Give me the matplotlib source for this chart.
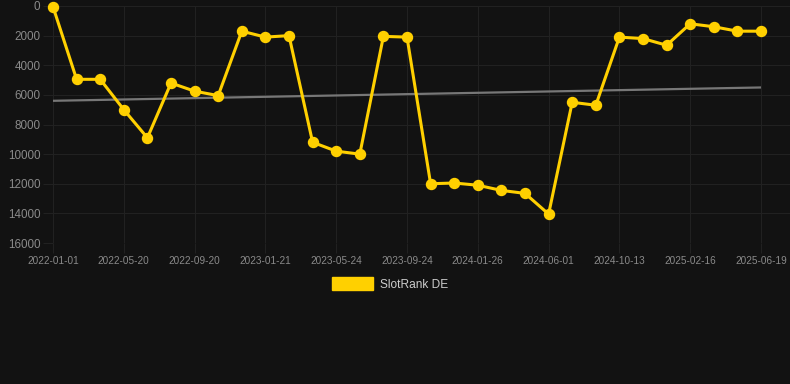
import matplotlib
matplotlib.use("Agg")
import matplotlib.pyplot as plt
from matplotlib.patches import Patch
import numpy as np

plt.rcParams['font.family'] = ['Liberation Sans', 'DejaVu Sans']

# Data
tick_labels = ["2022-01-01", "2022-05-20", "2022-09-20", "2023-01-21", "2023-05-24",
               "2023-09-24", "2024-01-26", "2024-06-01", "2024-10-13", "2025-02-16",
               "2025-06-19"]
rank_de = [50, 4950, 4950, 7000, 8900, 5200, 5750, 6050, 1700, 2100, 2000,
           9200, 9800, 10000, 2050, 2100, 12000, 11950, 12100, 12450, 12650,
           14050, 6500, 6700, 2100, 2200, 2650, 1200, 1400, 1700, 1700]
trend_ends = [6400, 5500]
y_ticks = [0, 2000, 4000, 6000, 8000, 10000, 12000, 14000, 16000]
series_name = "SlotRank DE"

BG = "#121212"
GRID = "#212121"
YELLOW = "#FFD000"

fig = plt.figure(figsize=(7.9, 3.84), dpi=100, facecolor=BG)
ax = fig.add_axes([53/790, (384-243)/384, 1 - 53/790, (243-6)/384])
ax.set_facecolor(BG)

x = np.arange(len(rank_de))
ax.plot([x[0], x[-1]], trend_ends, color="#777777", lw=1.6, zorder=2, solid_capstyle='butt')
ax.plot(x, rank_de, color=YELLOW, lw=2.2, marker='o', markersize=7.2,
        markerfacecolor=YELLOW, markeredgecolor=YELLOW, zorder=3, clip_on=False)

ax.set_ylim(16000, 0)
ax.set_xlim(0, (len(rank_de) - 1) * (790 - 53) / (761 - 53))
ax.set_yticks(y_ticks)
ax.set_yticklabels([str(v) for v in y_ticks])
tick_pos = x[::3]
ax.set_xticks(tick_pos)
ax.set_xticklabels(tick_labels)

ax.grid(True, color=GRID, lw=0.8, zorder=0)
for s in ax.spines.values():
    s.set_visible(False)
ax.tick_params(axis='y', length=7, color=GRID, width=0.8, labelsize=8.4,
               labelcolor="#8a8a8a", pad=2)
ax.tick_params(axis='x', length=7, color=GRID, width=0.8, labelsize=7.2,
               labelcolor="#8a8a8a", pad=2)

leg = fig.legend(handles=[Patch(facecolor=YELLOW, edgecolor=YELLOW, label=series_name)],
                 loc='center', bbox_to_anchor=(390/790, (384-284)/384),
                 frameon=False, fontsize=8.6, handlelength=3.4, handleheight=1.3,
                 handletextpad=0.6, labelcolor="#cccccc")

fig.savefig("out.png", dpi=100, facecolor=BG)
